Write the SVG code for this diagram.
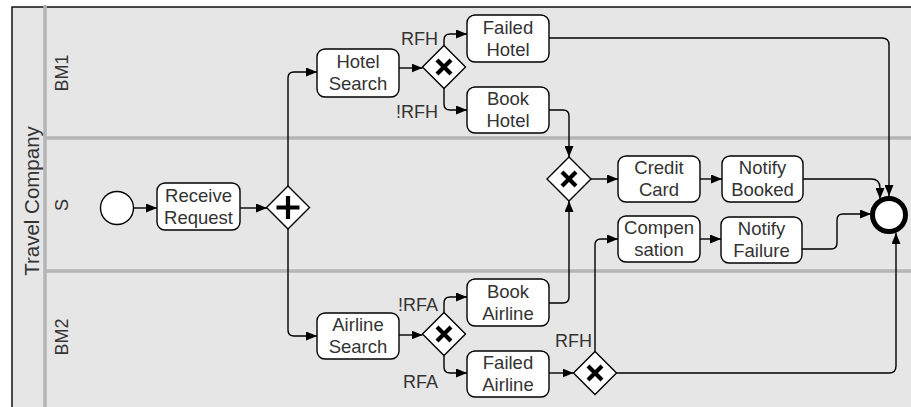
<svg xmlns="http://www.w3.org/2000/svg" width="911" height="407" viewBox="0 0 911 407">
<defs>
<marker id="arr" markerWidth="11" markerHeight="9" refX="11" refY="4.5" orient="auto" markerUnits="userSpaceOnUse"><path d="M0,0 L11,4.5 L0,9 z" fill="#000"/></marker>
<style>
.task{fill:#fff;stroke:#000;stroke-width:1.4}
.gw{fill:#fff;stroke:#000;stroke-width:1.4}
.mk{stroke:#000;stroke-width:4.2;fill:none}
.t{font-family:"Liberation Sans",Arial,sans-serif;font-size:18.5px;fill:#333;text-anchor:middle}
.lbl{font-family:"Liberation Sans",Arial,sans-serif;font-size:18px;fill:#333;text-anchor:end}
.lane{font-family:"Liberation Sans",Arial,sans-serif;font-size:18px;fill:#333;text-anchor:middle}
.edge{fill:none;stroke:#000;stroke-width:1.4;marker-end:url(#arr)}
.sep{stroke:#b5b5b5;stroke-width:3.5}
</style>
</defs>
<rect width="911" height="407" fill="#fff"/>
<g id="pool">
<rect x="12" y="7" width="910" height="410" fill="#e6e6e6" stroke="#000" stroke-width="1.4"/>
<line class="sep" x1="45" y1="5" x2="45" y2="407"/>
<line class="sep" x1="45" y1="138" x2="911" y2="138"/>
<line class="sep" x1="45" y1="271" x2="911" y2="271"/>
<text transform="translate(39,201) rotate(-90)" font-family="Liberation Sans, Arial, sans-serif" font-size="20.5" fill="#333" text-anchor="middle">Travel Company</text>
<text class="lane" transform="translate(68,73) rotate(-90)">BM1</text>
<text class="lane" transform="translate(68,205) rotate(-90)">S</text>
<text class="lane" transform="translate(68,337) rotate(-90)">BM2</text>
</g>
<g id="connectors">
<path class="edge" d="M133.5,208 H157"/>
<path class="edge" d="M240,208 H267"/>
<path class="edge" d="M288,186 V78 Q288,72 294,72 H317"/>
<path class="edge" d="M288,229 V330 Q288,336 294,336 H317"/>
<path class="edge" d="M399,68 H422.5"/>
<path class="edge" d="M444,45.5 V40 Q444,34 450,34 H467"/>
<path class="edge" d="M444,88.5 V104 Q444,110 450,110 H467"/>
<path class="edge" d="M549,38 H882 Q889,38 889,45 V196"/>
<path class="edge" d="M549,110 H563 Q569,110 569,116 V157"/>
<path class="edge" d="M549,303 H563 Q569,303 569,297 V201"/>
<path class="edge" d="M591,179 H618"/>
<path class="edge" d="M700,179 H722"/>
<path class="edge" d="M803,179 H871 Q880,179 880,188 V199"/>
<path class="edge" d="M700,239 H721"/>
<path class="edge" d="M802,249 H831 Q837,249 837,243 V220 Q837,214 843,214 H871"/>
<path class="edge" d="M595,351.5 V245 Q595,239 601,239 H618"/>
<path class="edge" d="M616.5,373 H889 Q896,373 896,366 V233"/>
<path class="edge" d="M549,373 H573.5"/>
<path class="edge" d="M399,335 H422.5"/>
<path class="edge" d="M444,312.5 V303 Q444,297 450,297 H467"/>
<path class="edge" d="M444,355.5 V367 Q444,373 450,373 H467"/>
</g>
<g id="start"><circle cx="117" cy="208" r="16.5" fill="#fff" stroke="#000" stroke-width="1.4"/></g>
<g id="end"><circle cx="889" cy="215" r="16.5" fill="#fff" stroke="#000" stroke-width="5"/></g>
<g id="receive"><rect class="task" x="157" y="183" width="83" height="47" rx="8"/><text class="t" x="198.5" y="201.5">Receive</text><text class="t" x="198.5" y="223.5">Request</text></g>
<g id="fork"><path class="gw" d="M288,186 L309.5,207.5 L288,229 L266.5,207.5 z"/><path class="mk" d="M288,196 V219 M276.5,207.5 H299.5"/></g>
<g id="hotelSearch"><rect class="task" x="317" y="49" width="82" height="48" rx="8"/><text class="t" x="358" y="67.5">Hotel</text><text class="t" x="358" y="89.5">Search</text></g>
<g id="xorHotel"><path class="gw" d="M444,45.5 L465.5,67 L444,88.5 L422.5,67 z"/><path class="mk" d="M437,60 L451,74 M451,60 L437,74"/></g>
<g id="failedHotel"><rect class="task" x="467" y="15" width="82" height="47" rx="8"/><text class="t" x="508" y="33.5">Failed</text><text class="t" x="508" y="55.5">Hotel</text></g>
<g id="bookHotel"><rect class="task" x="467" y="87" width="82" height="46" rx="8"/><text class="t" x="508" y="105">Book</text><text class="t" x="508" y="127">Hotel</text></g>
<g id="xorJoin"><path class="gw" d="M569,157 L591,179 L569,201 L547,179 z"/><path class="mk" d="M562,172 L576,186 M576,172 L562,186"/></g>
<g id="creditCard"><rect class="task" x="618" y="156" width="82" height="46" rx="8"/><text class="t" x="659" y="174">Credit</text><text class="t" x="659" y="196">Card</text></g>
<g id="notifyBooked"><rect class="task" x="722" y="156" width="81" height="46" rx="8"/><text class="t" x="762.5" y="174">Notify</text><text class="t" x="762.5" y="196">Booked</text></g>
<g id="compensation"><rect class="task" x="618" y="216" width="82" height="46" rx="8"/><text class="t" x="659" y="234">Compen</text><text class="t" x="659" y="256">sation</text></g>
<g id="notifyFailure"><rect class="task" x="721" y="217" width="81" height="46" rx="8"/><text class="t" x="761.5" y="235">Notify</text><text class="t" x="761.5" y="257">Failure</text></g>
<g id="airlineSearch"><rect class="task" x="317" y="313" width="82" height="46" rx="8"/><text class="t" x="358" y="331">Airline</text><text class="t" x="358" y="353">Search</text></g>
<g id="xorAirline"><path class="gw" d="M444,312.5 L465.5,334 L444,355.5 L422.5,334 z"/><path class="mk" d="M437,327 L451,341 M451,327 L437,341"/></g>
<g id="bookAirline"><rect class="task" x="467" y="279" width="82" height="47" rx="8"/><text class="t" x="508" y="297.5">Book</text><text class="t" x="508" y="319.5">Airline</text></g>
<g id="failedAirline"><rect class="task" x="467" y="351" width="82" height="46" rx="8"/><text class="t" x="508" y="369">Failed</text><text class="t" x="508" y="391">Airline</text></g>
<g id="xorRFH"><path class="gw" d="M595,351.5 L616.5,373 L595,394.5 L573.5,373 z"/><path class="mk" d="M588,366 L602,380 M602,366 L588,380"/></g>
<g id="labels">
<text class="lbl" x="438" y="45">RFH</text>
<text class="lbl" x="438" y="118">!RFH</text>
<text class="lbl" x="438" y="311">!RFA</text>
<text class="lbl" x="438" y="388">RFA</text>
<text class="lbl" x="592" y="347">RFH</text>
</g>
</svg>
